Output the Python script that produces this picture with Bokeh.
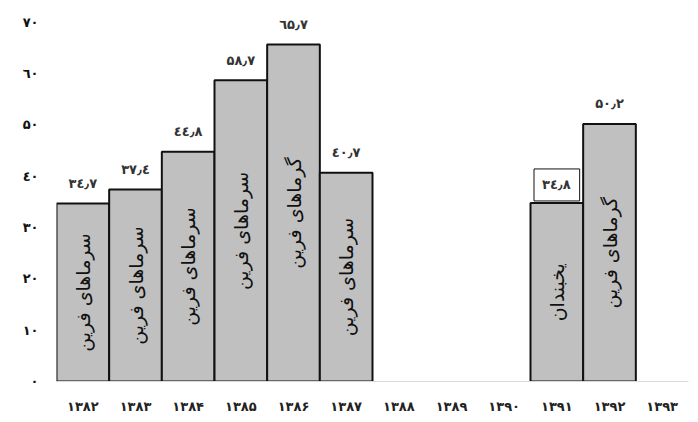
import math
from bokeh.plotting import figure
from bokeh.models import ColumnDataSource, FactorRange, FixedTicker
from bokeh.core.properties import value
from bokeh.embed import file_html
from bokeh.resources import INLINE

# ---- data ----
years = ["۱۳۸۲", "۱۳۸۳", "۱۳۸۴", "۱۳۸۵", "۱۳۸۶", "۱۳۸۷",
         "۱۳۸۸", "۱۳۸۹", "۱۳۹۰", "۱۳۹۱", "۱۳۹۲", "۱۳۹۳"]
values = [34.7, 37.4, 44.8, 58.7, 65.7, 40.7, None, None, None, 34.8, 50.2, None]
value_labels = ["۳٤٫۷", "۳۷٫٤", "٤٤٫۸", "۵۸٫۷", "٦۵٫۷", "٤۰٫۷", None, None, None,
                "۳٤٫۸", "۵۰٫۲", None]
event_types = ["سرماهای فرین", "سرماهای فرین", "سرماهای فرین", "سرماهای فرین",
               "گرماهای فرین", "سرماهای فرین", None, None, None,
               "یخبندان", "گرماهای فرین", None]
boxed_year = "۱۳۹۱"
y_ticks = [0, 10, 20, 30, 40, 50, 60, 70]
y_tick_labels = ["٠", "١٠", "٢٠", "٣٠", "٤٠", "۵٠", "٦٠", "٧٠"]

# ---- sources ----
bx, btop, bmid, btype, blab = [], [], [], [], []
boxed = dict(x=[], y=[], lab=[])
for yr, v, lab, t in zip(years, values, value_labels, event_types):
    if v is None:
        continue
    if yr == boxed_year:
        boxed["x"].append(yr); boxed["y"].append(v); boxed["lab"].append(lab)
    else:
        bx.append(yr); btop.append(v); blab.append(lab)
    btype.append(t)
    bmid.append(v / 2.0)

bars = ColumnDataSource(dict(
    x=[yr for yr, v in zip(years, values) if v is not None],
    top=[v for v in values if v is not None],
    mid=bmid, typ=btype))
labs = ColumnDataSource(dict(x=bx, y=btop, lab=blab))
boxsrc = ColumnDataSource(boxed)

FONT = "DejaVu Sans"

p = figure(x_range=FactorRange(*years), y_range=(0, 72.7),
           width=690, height=421, output_backend="svg", toolbar_location=None,
           min_border_left=56, min_border_right=2, min_border_top=8,
           min_border_bottom=40)
p.outline_line_color = None
p.xgrid.grid_line_color = None
p.ygrid.grid_line_color = None

p.vbar(x="x", top="top", width=1.0, source=bars, fill_color="#c0c0c0",
       line_color="#111111", line_width=2)

p.text(x="x", y="mid", text="typ", source=bars, angle=math.pi / 2,
       text_align="center", text_baseline="middle", text_font=value(FONT),
       text_font_size="19px", text_color="#111111")

p.text(x="x", y="y", text="lab", source=labs, text_align="center",
       text_baseline="middle", y_offset=-20, text_font=value(FONT),
       text_font_size="13px", text_font_style="bold", text_color="#333333")

p.text(x="x", y="y", text="lab", source=boxsrc, text_align="center",
       text_baseline="middle", y_offset=-18, text_font=value(FONT),
       text_font_size="13px", text_font_style="bold", text_color="#333333",
       background_fill_color="white", border_line_color="#111111",
       border_line_width=1, padding=[8, 9, 8, 9])

# axes
xa = p.xaxis[0]
xa.axis_line_color = "#d9d9d9"
xa.major_tick_line_color = None
xa.minor_tick_line_color = None
xa.major_tick_out = 0
xa.major_label_standoff = 17
xa.major_label_text_font = FONT
xa.major_label_text_font_size = "13px"
xa.major_label_text_font_style = "bold"
xa.major_label_text_color = "#222222"

ya = p.yaxis[0]
ya.ticker = FixedTicker(ticks=y_ticks)
ya.major_label_overrides = {t: l for t, l in zip(y_ticks, y_tick_labels)}
ya.axis_line_color = None
ya.major_tick_line_color = None
ya.minor_tick_line_color = None
ya.major_tick_out = 0
ya.major_label_standoff = 18
ya.major_label_text_font = FONT
ya.major_label_text_font_size = "13px"
ya.major_label_text_font_style = "bold"
ya.major_label_text_color = "#111111"

open("out.html", "w").write(file_html(p, INLINE))
